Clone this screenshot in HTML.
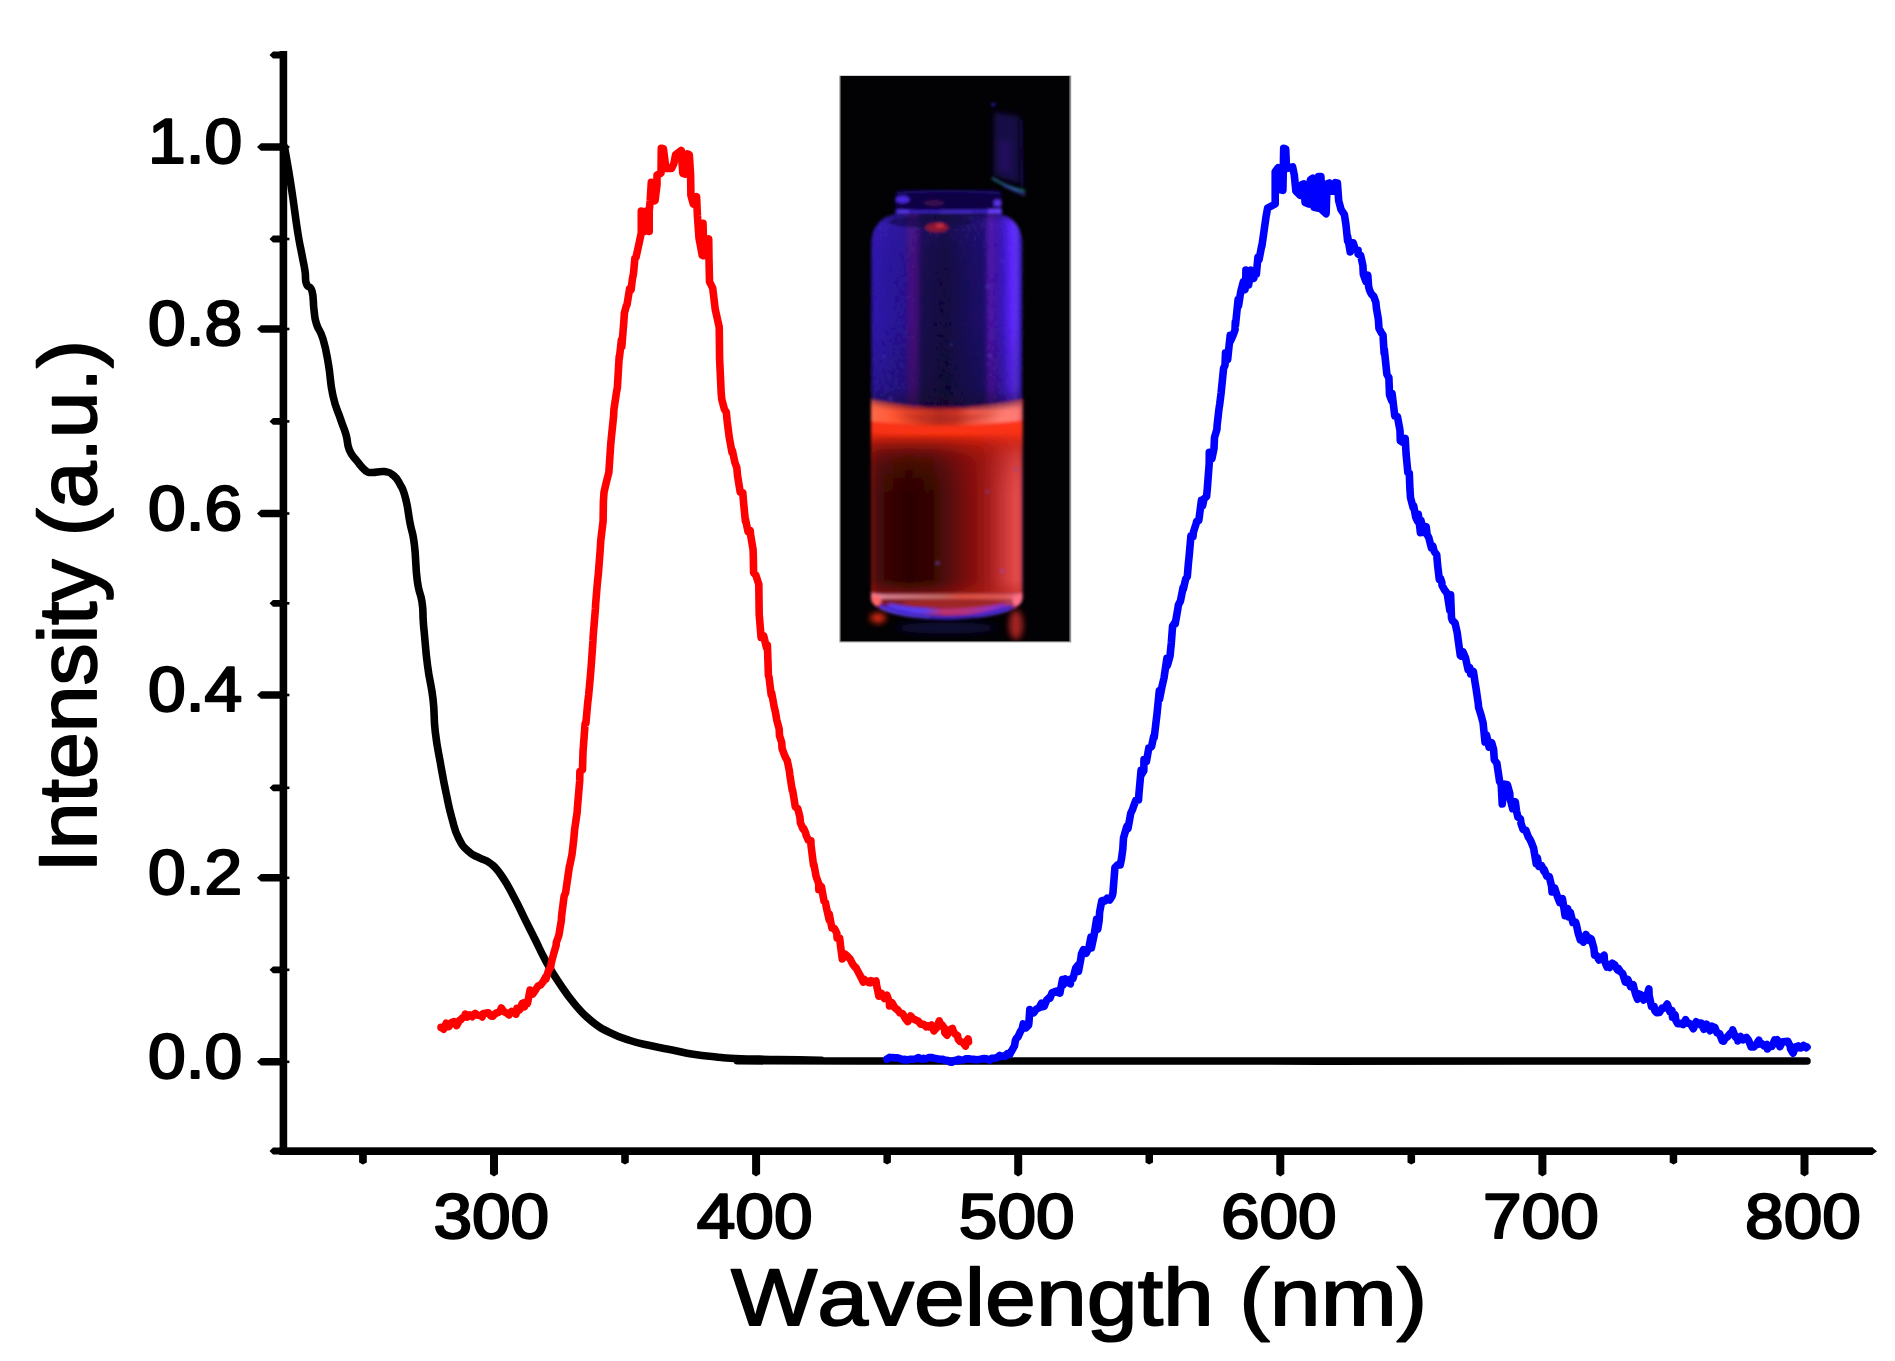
<!DOCTYPE html>
<html lang="en">
<head>
<meta charset="utf-8">
<title>Absorption, excitation and emission spectra</title>
<style>
html,body{margin:0;padding:0;background:#fff;}
body{width:1895px;height:1361px;overflow:hidden;}
svg{display:block;}
</style>
</head>
<body>
<svg width="1895" height="1361" viewBox="0 0 1895 1361">
<rect width="1895" height="1361" fill="#fff"/>
<g fill="#000">
<rect x="279.6" y="51" width="7.6" height="1104"/>
<rect x="279.6" y="1147.3" width="1593" height="7.7"/>
<path d="M1872,1147.3 L1877,1151.2 L1872,1155 Z"/>
<path d="M281,143.2 L261,143.2 L257,147.0 L261,150.8 L281,150.8 Z"/>
<rect x="286" y="145.7" width="3.4" height="2.6"/>
<path d="M281,325.2 L261,325.2 L257,329.0 L261,332.8 L281,332.8 Z"/>
<rect x="286" y="327.7" width="3.4" height="2.6"/>
<path d="M281,509.7 L261,509.7 L257,513.5 L261,517.3 L281,517.3 Z"/>
<rect x="286" y="512.2" width="3.4" height="2.6"/>
<path d="M281,691.2 L261,691.2 L257,695.0 L261,698.8 L281,698.8 Z"/>
<rect x="286" y="693.7" width="3.4" height="2.6"/>
<path d="M281,874.0 L261,874.0 L257,877.8 L261,881.6 L281,881.6 Z"/>
<rect x="286" y="876.5" width="3.4" height="2.6"/>
<path d="M281,1058.0 L261,1058.0 L257,1061.8 L261,1065.6 L281,1065.6 Z"/>
<rect x="286" y="1060.5" width="3.4" height="2.6"/>
<path d="M281,51.6 L273,51.6 L269.5,55.0 L273,58.4 L281,58.4 Z"/>
<path d="M281,235.6 L273,235.6 L269.5,239.0 L273,242.4 L281,242.4 Z"/>
<rect x="286" y="237.7" width="3.4" height="2.6"/>
<path d="M281,418.0 L273,418.0 L269.5,421.4 L273,424.8 L281,424.8 Z"/>
<rect x="286" y="420.1" width="3.4" height="2.6"/>
<path d="M281,599.9 L273,599.9 L269.5,603.3 L273,606.7 L281,606.7 Z"/>
<rect x="286" y="602.0" width="3.4" height="2.6"/>
<path d="M281,784.4 L273,784.4 L269.5,787.8 L273,791.2 L281,791.2 Z"/>
<rect x="286" y="786.5" width="3.4" height="2.6"/>
<path d="M281,966.4 L273,966.4 L269.5,969.8 L273,973.2 L281,973.2 Z"/>
<rect x="286" y="968.5" width="3.4" height="2.6"/>
<path d="M281,1147.6 L273,1147.6 L269.5,1151.0 L273,1154.4 L281,1154.4 Z"/>
<path d="M490.0,1154 L490.0,1174 L494.0,1176.5 L498.0,1174 L498.0,1154 Z"/>
<path d="M752.1,1154 L752.1,1174 L756.1,1176.5 L760.1,1174 L760.1,1154 Z"/>
<path d="M1014.2,1154 L1014.2,1174 L1018.2,1176.5 L1022.2,1174 L1022.2,1154 Z"/>
<path d="M1276.3,1154 L1276.3,1174 L1280.3,1176.5 L1284.3,1174 L1284.3,1154 Z"/>
<path d="M1538.4,1154 L1538.4,1174 L1542.4,1176.5 L1546.4,1174 L1546.4,1154 Z"/>
<path d="M1800.5,1154 L1800.5,1174 L1804.5,1176.5 L1808.5,1174 L1808.5,1154 Z"/>
<path d="M359.1,1154 L359.1,1162.5 L362.9,1164.5 L366.8,1162.5 L366.8,1154 Z"/>
<path d="M621.2,1154 L621.2,1162.5 L625.0,1164.5 L628.8,1162.5 L628.8,1154 Z"/>
<path d="M883.4,1154 L883.4,1162.5 L887.1,1164.5 L890.9,1162.5 L890.9,1154 Z"/>
<path d="M1145.5,1154 L1145.5,1162.5 L1149.2,1164.5 L1153.0,1162.5 L1153.0,1154 Z"/>
<path d="M1407.5,1154 L1407.5,1162.5 L1411.3,1164.5 L1415.1,1162.5 L1415.1,1154 Z"/>
<path d="M1669.7,1154 L1669.7,1162.5 L1673.5,1164.5 L1677.2,1162.5 L1677.2,1154 Z"/>
</g>
<g fill="none" stroke-linejoin="round" stroke-linecap="round" stroke-width="7.6">
<path stroke="#000" d="M284.5,147.0 C285.6,153.1 286.4,157.5 288.5,170.0 C290.6,182.5 289.8,177.5 292.3,194.0 C294.8,210.5 295.1,215.7 297.7,232.0 C300.3,248.3 300.1,244.6 302.0,255.0 C303.9,265.4 303.8,263.3 305.0,271.0 C306.2,278.7 304.6,278.7 306.5,284.0 C308.4,289.3 310.0,284.1 312.0,291.0 C314.0,297.9 312.8,301.2 314.0,310.0 C315.2,318.8 314.1,316.3 316.5,324.0 C318.9,331.7 319.8,328.3 323.0,339.0 C326.2,349.7 325.8,349.1 328.4,364.0 C331.0,378.9 329.6,380.3 332.8,395.0 C336.0,409.7 337.0,408.4 340.5,419.0 C344.0,429.6 343.6,426.3 346.0,434.6 C348.4,442.9 346.5,443.0 349.4,450.0 C352.3,457.0 352.9,455.7 357.0,461.0 C361.1,466.3 361.0,466.9 364.8,470.0 C368.6,473.1 366.1,472.1 371.4,472.5 C376.7,472.9 378.7,470.8 384.6,471.6 C390.5,472.4 389.3,472.0 393.4,475.4 C397.5,478.8 396.7,478.0 400.0,484.2 C403.3,490.4 402.9,488.2 405.6,498.5 C408.3,508.8 407.7,510.5 410.0,522.8 C412.3,535.1 412.5,529.5 414.4,544.8 C416.3,560.1 415.2,564.7 417.2,580.0 C419.2,595.3 420.4,591.3 422.0,602.0 C423.6,612.7 422.6,611.7 423.2,620.0 C423.8,628.3 423.1,620.7 424.3,633.0 C425.5,645.3 425.3,648.4 427.6,666.0 C429.9,683.6 430.9,681.4 433.0,699.0 C435.1,716.6 433.2,714.3 435.3,732.0 C437.4,749.7 437.9,748.8 440.8,765.3 C443.7,781.8 443.3,779.9 446.3,794.0 C449.3,808.1 448.6,806.5 451.9,818.2 C455.2,829.9 454.1,829.2 458.5,838.0 C462.9,846.8 462.8,846.0 468.4,851.3 C474.0,856.6 473.5,854.7 479.4,857.9 C485.3,861.1 484.5,858.7 490.4,863.4 C496.3,868.1 495.1,866.5 501.4,875.5 C507.7,884.5 507.8,885.6 513.9,897.0 C520.0,908.4 518.8,906.8 524.4,918.1 C530.0,929.4 529.4,927.9 535.0,939.2 C540.6,950.5 539.3,949.0 545.5,960.3 C551.7,971.6 550.3,969.6 558.2,981.4 C566.1,993.2 566.1,993.9 575.1,1004.6 C584.1,1015.3 583.0,1014.2 592.0,1021.5 C601.0,1028.8 598.8,1027.0 608.9,1032.1 C619.0,1037.2 618.7,1036.8 630.0,1040.5 C641.3,1044.2 639.8,1043.3 651.1,1045.8 C662.4,1048.3 660.9,1047.8 672.2,1050.0 C683.5,1052.2 682.0,1052.4 693.3,1054.2 C704.6,1056.0 703.1,1055.7 714.4,1056.8 C725.7,1057.9 718.6,1057.8 735.5,1058.5 C752.4,1059.2 755.2,1059.0 777.7,1059.5 C800.2,1060.0 798.1,1059.8 820.0,1060.2 C841.9,1060.6 596.8,1060.8 860.0,1061.0 C1123.2,1061.2 1554.5,1061.0 1807.0,1061.0"/>
<path stroke="#f00" d="M441.0,1027.6 L441.0,1027.4 L443.6,1029.2 L446.2,1023.2 L448.9,1026.6 L450.6,1023.6 L451.5,1022.6 L454.1,1021.6 L456.7,1025.6 L459.3,1020.5 L461.1,1019.4 L462.0,1018.2 L464.6,1016.7 L465.3,1014.1 L467.2,1017.1 L469.8,1014.8 L472.4,1016.7 L475.1,1013.4 L477.7,1015.3 L480.3,1015.6 L482.2,1016.9 L482.9,1013.7 L485.5,1013.2 L488.2,1012.7 L490.8,1015.9 L492.8,1016.3 L493.4,1015.5 L496.0,1013.2 L498.6,1012.3 L500.2,1011.0 L501.3,1008.0 L503.9,1011.6 L506.5,1013.0 L509.1,1014.8 L509.7,1013.1 L511.7,1011.4 L514.4,1012.9 L516.0,1014.1 L517.0,1008.4 L519.6,1009.8 L522.2,1003.4 L524.4,1006.8 L524.8,1002.5 L527.5,1003.4 L530.1,990.0 L530.8,994.1 L532.7,994.2 L535.3,990.4 L537.9,986.1 L539.2,985.6 L540.6,985.0 L543.2,981.7 L545.5,977.2 L545.8,979.3 L548.4,970.8 L550.8,966.6 L551.0,964.1 L553.7,953.6 L556.1,945.5 L556.3,942.5 L558.9,935.2 L561.4,920.2 L561.5,916.7 L564.1,896.2 L565.6,892.8 L566.8,884.4 L569.4,866.4 L569.8,865.3 L572.0,854.4 L573.7,840.0 L574.6,829.8 L577.2,811.9 L577.3,809.3 L579.7,780.7 L579.9,771.3 L582.5,769.8 L583.0,752.0 L585.1,723.5 L585.9,723.3 L587.7,703.0 L588.7,694.7 L590.3,677.0 L591.2,666.0 L593.0,640.2 L593.1,637.3 L595.4,608.7 L595.6,604.6 L597.2,585.0 L598.2,574.9 L598.3,574.6 L600.2,549.8 L600.8,540.2 L603.1,521.1 L603.4,501.4 L604.0,492.4 L606.1,483.1 L608.7,472.9 L608.8,473.3 L610.7,444.7 L611.3,438.1 L613.6,416.0 L613.9,409.6 L616.5,392.2 L617.4,387.3 L619.2,356.5 L619.3,358.7 L621.4,340.0 L621.8,346.8 L623.8,322.0 L624.4,313.0 L626.3,305.9 L627.0,304.8 L629.6,288.9 L631.1,289.7 L632.3,279.6 L633.5,273.5 L634.9,258.1 L636.0,257.4 L639.2,242.8 L641.3,232.7 L641.3,211.0 L644.0,231.5 L646.5,211.0 L649.2,231.5 L649.2,211.0 L650.2,200.8 L651.3,182.2 L655.0,200.8 L657.0,184.7 L657.0,175.0 L661.0,173.3 L661.3,148.3 L663.4,148.8 L665.9,168.5 L671.5,168.5 L673.9,163.6 L675.6,154.8 L681.2,150.4 L682.8,173.3 L685.3,174.1 L687.7,153.9 L689.3,154.8 L690.6,175.0 L690.9,195.2 L693.3,204.0 L696.6,196.8 L697.4,215.4 L699.0,238.0 L702.2,255.0 L703.0,223.4 L703.9,255.8 L708.7,238.8 L709.0,259.0 L709.5,281.6 L712.7,288.1 L715.2,309.1 L719.2,327.1 L719.2,326.9 L719.4,340.0 L719.6,358.7 L721.2,393.1 L721.8,399.6 L724.4,409.2 L726.3,412.2 L727.1,420.4 L729.2,437.0 L729.7,439.9 L732.0,452.3 L732.3,450.3 L734.9,462.5 L736.8,467.6 L737.5,475.3 L738.7,482.9 L740.2,492.2 L742.8,492.7 L743.5,502.0 L745.4,521.1 L745.4,519.0 L748.0,531.6 L750.2,530.7 L750.6,534.8 L753.1,549.8 L753.3,556.0 L753.6,572.7 L755.9,575.3 L758.5,583.3 L758.8,584.2 L759.2,614.4 L761.1,637.4 L761.7,635.4 L763.7,635.8 L766.4,647.3 L767.4,645.0 L768.4,675.5 L769.0,676.9 L771.2,694.7 L771.6,692.6 L774.2,706.9 L775.4,711.9 L776.8,720.0 L779.2,729.1 L779.5,735.8 L781.7,742.4 L782.1,748.6 L784.7,755.6 L785.6,757.7 L787.3,760.7 L789.4,771.1 L789.9,775.3 L792.2,790.2 L792.6,790.2 L795.1,805.5 L795.2,806.8 L797.8,808.6 L799.9,817.0 L800.4,822.8 L803.0,829.0 L803.7,828.4 L805.7,833.2 L806.0,835.0 L808.3,840.1 L810.9,840.7 L811.0,845.3 L813.5,865.1 L813.9,864.4 L816.1,876.4 L818.7,883.5 L818.8,889.6 L821.4,886.6 L824.0,901.0 L825.4,902.6 L826.6,908.4 L829.2,919.8 L829.2,914.0 L831.9,928.1 L834.5,928.6 L836.8,933.2 L837.1,938.0 L839.7,938.3 L840.6,946.6 L842.3,958.9 L845.0,954.0 L847.6,956.3 L849.2,958.0 L850.2,959.1 L852.8,964.4 L855.4,967.5 L855.9,967.6 L858.1,971.7 L860.7,976.6 L863.3,982.0 L863.6,979.0 L865.9,980.8 L868.5,982.5 L870.3,982.9 L871.2,980.7 L873.8,981.9 L876.0,981.0 L876.4,984.4 L878.9,996.3 L879.0,996.3 L881.6,993.6 L884.3,998.4 L886.9,995.2 L889.4,1002.0 L889.5,1006.0 L892.1,1002.9 L894.7,1007.6 L897.0,1009.6 L897.4,1009.4 L900.0,1012.9 L902.6,1013.6 L904.7,1017.3 L905.2,1018.3 L907.8,1021.5 L910.5,1015.9 L913.1,1018.8 L915.7,1020.0 L916.1,1020.1 L918.3,1021.2 L920.9,1024.3 L923.6,1024.3 L926.2,1026.8 L927.6,1025.9 L928.8,1026.8 L931.4,1025.0 L934.0,1030.9 L936.7,1027.6 L939.3,1020.9 L941.0,1025.9 L941.9,1024.7 L944.5,1028.2 L944.8,1032.6 L947.1,1035.1 L949.8,1029.8 L952.4,1028.5 L953.4,1031.6 L955.0,1034.0 L957.6,1035.7 L958.2,1039.2 L960.2,1041.5 L962.9,1042.4 L965.5,1046.1 L965.8,1043.1 L968.1,1038.9 L968.5,1042.0"/>
<path stroke="#00f" d="M887.0,1059.1 L887.0,1059.3 L889.4,1057.4 L889.6,1057.8 L892.2,1057.6 L894.9,1057.9 L897.5,1057.8 L900.1,1058.6 L902.7,1059.8 L904.7,1059.3 L905.3,1059.6 L908.0,1059.9 L910.6,1059.2 L913.2,1059.2 L915.8,1058.9 L918.4,1057.5 L921.1,1059.1 L923.7,1058.8 L923.8,1058.4 L926.3,1058.9 L928.9,1057.5 L931.5,1057.5 L934.2,1058.3 L936.8,1058.7 L939.4,1059.3 L942.0,1059.2 L942.9,1059.3 L944.6,1060.3 L947.3,1060.3 L949.9,1061.9 L951.5,1062.2 L952.5,1062.0 L955.1,1060.2 L957.7,1060.7 L958.2,1059.3 L960.4,1059.7 L963.0,1060.1 L965.6,1058.9 L968.2,1058.8 L970.8,1059.1 L973.5,1059.2 L976.1,1059.7 L978.7,1059.5 L981.1,1059.3 L981.3,1059.0 L983.9,1058.6 L986.6,1058.9 L989.2,1060.2 L990.6,1059.3 L991.8,1058.4 L994.4,1058.3 L997.0,1057.7 L999.7,1055.5 L1000.2,1056.4 L1002.3,1056.0 L1004.9,1056.4 L1007.5,1053.5 L1009.8,1054.5 L1010.1,1053.7 L1012.8,1048.8 L1014.5,1045.9 L1015.4,1040.4 L1016.4,1038.3 L1018.0,1036.9 L1020.6,1031.2 L1022.2,1028.7 L1023.2,1023.9 L1025.9,1027.8 L1028.5,1025.2 L1028.9,1023.0 L1029.8,1009.6 L1031.1,1012.0 L1033.7,1012.8 L1036.3,1009.2 L1039.0,1007.9 L1041.6,1003.2 L1042.2,1006.8 L1044.2,1006.3 L1046.8,999.9 L1049.4,997.4 L1049.9,998.2 L1052.1,992.8 L1054.7,991.7 L1057.3,991.0 L1057.5,992.4 L1059.9,993.1 L1062.5,979.6 L1063.3,984.8 L1065.2,978.9 L1067.8,982.1 L1070.4,983.8 L1070.9,979.0 L1073.0,978.7 L1075.6,968.3 L1078.3,964.7 L1078.5,971.4 L1080.9,958.4 L1081.4,954.2 L1083.5,949.7 L1086.1,953.2 L1088.7,948.0 L1089.1,946.6 L1091.0,937.0 L1091.4,947.9 L1094.0,935.7 L1096.6,919.4 L1097.7,929.4 L1099.2,920.1 L1099.6,912.2 L1101.8,900.7 L1104.5,900.1 L1105.3,900.7 L1107.1,898.3 L1109.7,900.0 L1112.3,895.7 L1112.9,893.1 L1114.9,868.2 L1114.9,867.6 L1117.6,864.8 L1120.2,864.9 L1121.5,858.7 L1122.8,849.2 L1123.5,838.0 L1125.4,831.4 L1126.8,826.5 L1128.0,828.6 L1130.7,813.3 L1132.6,809.3 L1133.3,807.1 L1135.9,800.1 L1138.5,800.0 L1138.9,794.0 L1141.1,770.2 L1141.2,774.9 L1143.8,770.8 L1144.0,759.6 L1146.4,761.6 L1148.8,748.2 L1149.0,748.4 L1151.6,746.6 L1153.6,736.7 L1154.2,737.6 L1156.9,714.7 L1157.0,713.8 L1159.3,690.8 L1159.5,699.2 L1162.1,686.1 L1164.1,677.5 L1164.7,673.2 L1166.9,658.3 L1167.3,665.6 L1170.0,656.2 L1171.3,643.1 L1172.6,626.0 L1175.2,622.0 L1175.2,623.9 L1177.8,609.0 L1178.4,604.8 L1180.4,601.2 L1183.1,587.6 L1183.2,589.6 L1185.7,579.0 L1187.3,576.5 L1188.3,564.4 L1189.2,555.5 L1190.9,536.1 L1193.0,536.4 L1193.5,531.8 L1196.2,523.3 L1196.8,521.1 L1198.8,520.6 L1201.4,500.4 L1202.6,505.8 L1204.0,498.8 L1206.6,496.5 L1207.3,488.6 L1209.2,463.8 L1209.3,452.3 L1211.9,458.8 L1214.0,448.5 L1214.5,437.5 L1216.9,429.4 L1217.1,425.5 L1218.8,410.3 L1219.7,404.3 L1221.1,393.1 L1222.4,380.1 L1223.6,368.2 L1225.0,365.4 L1225.5,352.9 L1227.6,359.9 L1230.2,335.4 L1230.3,341.5 L1232.8,336.0 L1235.0,330.0 L1235.3,322.0 L1235.5,325.1 L1238.1,299.6 L1238.5,305.9 L1240.7,292.0 L1243.3,281.9 L1245.0,289.7 L1245.8,278.4 L1245.9,270.1 L1248.6,285.1 L1251.2,270.2 L1253.8,278.3 L1254.7,273.5 L1256.4,273.8 L1257.9,257.4 L1259.0,259.8 L1261.7,245.8 L1261.9,246.1 L1266.0,217.0 L1267.6,208.1 L1275.2,204.0 L1275.2,171.7 L1278.1,167.7 L1279.2,189.5 L1282.9,190.3 L1283.7,148.3 L1285.7,149.1 L1286.5,168.5 L1292.6,166.9 L1294.3,175.0 L1295.9,191.1 L1299.9,195.2 L1301.5,184.7 L1303.9,183.8 L1305.1,202.4 L1308.8,204.0 L1310.4,179.8 L1312.8,178.2 L1314.1,207.3 L1317.7,208.1 L1318.5,176.6 L1320.9,176.6 L1322.5,210.5 L1326.1,213.7 L1327.1,183.8 L1329.3,183.0 L1330.9,191.1 L1333.9,191.1 L1335.5,182.7 L1337.4,183.0 L1338.7,200.8 L1341.1,209.7 L1344.4,214.6 L1346.0,225.1 L1347.6,240.9 L1347.6,236.4 L1350.2,251.9 L1352.8,246.1 L1353.2,242.8 L1355.5,250.2 L1358.1,250.2 L1358.1,254.2 L1360.7,255.5 L1362.9,265.5 L1363.3,274.2 L1365.9,281.4 L1367.8,275.2 L1368.6,286.5 L1369.4,289.7 L1371.2,293.8 L1373.8,296.5 L1375.9,302.6 L1376.4,308.0 L1378.3,318.8 L1379.0,328.4 L1381.7,333.3 L1383.0,335.0 L1384.1,352.9 L1384.3,349.5 L1386.9,374.4 L1388.9,377.8 L1389.5,394.9 L1391.7,400.7 L1392.1,393.6 L1394.8,416.1 L1397.4,416.5 L1398.4,421.7 L1400.0,430.4 L1400.3,440.8 L1402.6,442.2 L1405.2,438.4 L1406.1,454.2 L1407.9,473.0 L1409.3,473.3 L1409.9,488.6 L1410.5,497.6 L1413.1,507.5 L1413.7,505.8 L1415.7,517.2 L1417.5,521.1 L1418.3,514.2 L1420.4,532.6 L1421.0,520.6 L1423.6,532.4 L1426.2,526.6 L1427.1,534.5 L1428.8,537.6 L1431.4,547.7 L1432.8,545.9 L1434.1,551.2 L1436.7,554.7 L1437.6,565.0 L1439.3,579.2 L1440.5,578.4 L1441.9,582.6 L1442.0,585.3 L1444.5,589.9 L1447.2,593.4 L1449.8,610.2 L1450.6,594.8 L1451.5,617.8 L1452.4,620.6 L1455.0,622.8 L1457.3,633.1 L1457.6,635.7 L1460.3,655.6 L1461.1,656.0 L1462.9,651.7 L1465.5,657.7 L1468.1,669.7 L1469.7,667.5 L1470.7,674.0 L1473.4,671.5 L1475.4,684.7 L1476.0,688.1 L1478.3,703.8 L1478.6,707.4 L1481.2,715.7 L1483.1,722.9 L1483.8,730.2 L1485.0,742.0 L1486.5,735.0 L1489.1,747.1 L1491.7,742.7 L1493.6,749.6 L1494.3,759.8 L1496.9,763.2 L1497.4,766.8 L1499.6,781.4 L1501.2,784.0 L1502.2,804.0 L1504.8,784.2 L1507.4,784.8 L1509.8,793.6 L1510.0,798.1 L1512.7,808.7 L1515.3,801.7 L1516.5,810.8 L1517.9,817.1 L1520.5,819.1 L1521.0,823.4 L1523.1,829.5 L1525.8,830.1 L1528.4,837.1 L1529.6,838.7 L1531.0,841.5 L1533.6,848.1 L1536.2,863.5 L1537.3,857.8 L1538.9,866.4 L1541.5,865.6 L1543.9,871.2 L1544.1,869.2 L1546.7,876.3 L1549.3,876.6 L1551.6,886.4 L1552.0,892.0 L1554.6,888.0 L1557.2,895.9 L1559.8,902.6 L1561.1,901.7 L1562.4,898.6 L1565.1,915.7 L1567.7,908.6 L1568.8,917.0 L1570.3,912.3 L1572.9,922.5 L1575.5,922.0 L1576.4,924.7 L1578.2,933.2 L1580.3,939.9 L1580.8,937.4 L1583.4,942.1 L1586.0,934.5 L1588.6,940.2 L1589.8,938.0 L1591.3,939.1 L1593.9,948.6 L1594.6,955.2 L1596.5,955.5 L1599.1,960.0 L1601.7,957.4 L1604.1,955.2 L1604.4,960.4 L1607.0,967.0 L1608.0,965.7 L1609.6,967.4 L1612.2,963.3 L1614.8,965.0 L1617.5,969.9 L1618.5,968.6 L1620.1,971.3 L1622.7,973.6 L1625.3,982.2 L1626.1,982.0 L1627.9,979.6 L1630.6,986.7 L1633.2,984.7 L1633.8,987.7 L1635.8,994.8 L1637.6,999.2 L1638.4,993.8 L1641.0,994.8 L1643.7,1000.0 L1646.3,998.1 L1648.9,988.9 L1649.1,995.4 L1651.5,1006.4 L1654.1,1006.5 L1654.8,1010.7 L1656.8,1012.7 L1659.4,1012.5 L1662.0,1008.3 L1662.4,1008.7 L1664.6,1008.0 L1667.2,1004.1 L1669.9,1011.6 L1672.0,1010.7 L1672.5,1017.2 L1675.1,1014.9 L1675.8,1020.2 L1677.7,1023.8 L1680.3,1023.4 L1683.0,1024.6 L1685.6,1019.7 L1687.3,1023.1 L1688.2,1022.9 L1690.8,1024.3 L1693.4,1028.7 L1696.1,1021.8 L1698.7,1023.2 L1700.7,1025.0 L1701.3,1023.2 L1703.9,1029.3 L1706.5,1024.2 L1709.2,1029.5 L1710.2,1030.7 L1711.8,1026.2 L1714.4,1027.2 L1715.0,1027.8 L1717.0,1032.9 L1719.6,1033.6 L1722.3,1040.9 L1723.6,1041.2 L1724.9,1038.6 L1727.5,1036.7 L1730.1,1033.6 L1732.2,1031.7 L1732.7,1030.0 L1735.4,1037.0 L1737.9,1039.3 L1738.0,1040.9 L1740.6,1036.6 L1743.2,1039.8 L1745.8,1037.8 L1746.5,1037.4 L1748.5,1040.2 L1751.1,1046.9 L1751.3,1047.0 L1753.7,1046.9 L1756.3,1044.4 L1758.9,1040.3 L1758.9,1044.1 L1761.6,1043.6 L1764.2,1046.1 L1766.8,1044.6 L1767.5,1048.9 L1769.4,1045.9 L1772.0,1046.4 L1774.7,1039.9 L1775.2,1042.2 L1777.3,1039.8 L1779.9,1046.7 L1782.5,1042.0 L1782.8,1042.2 L1785.1,1041.5 L1787.8,1041.3 L1790.4,1046.7 L1790.5,1048.9 L1793.0,1053.2 L1795.6,1046.9 L1798.1,1046.0 L1798.2,1047.5 L1800.9,1047.9 L1803.5,1045.4 L1806.1,1047.7 L1807.0,1047.0"/>
</g>
<defs>
<clipPath id="pc"><rect x="840.5" y="76" width="229" height="565"/></clipPath>
<clipPath id="bodyc"><path d="M871,598 L871,246 Q871,217 900,213 L995,213 Q1022.5,217 1022.5,246 L1022.5,598 Q1022.5,616 946,620 Q871,616 871,598 Z"/></clipPath>
<clipPath id="liqc"><path d="M869,399 Q946,416 1024,399 L1024,600 L869,600 Z"/></clipPath>
<filter id="b1" x="-10%" y="-10%" width="120%" height="120%"><feGaussianBlur stdDeviation="1.5"/></filter>
<filter id="b2" x="-30%" y="-30%" width="160%" height="160%"><feGaussianBlur stdDeviation="3"/></filter>
<filter id="grain" x="0" y="0" width="100%" height="100%">
<feTurbulence type="fractalNoise" baseFrequency="0.55" numOctaves="2" seed="4" result="n"/>
<feColorMatrix in="n" type="matrix" values="0 0 0 0 0.45  0 0 0 0 0.35  0 0 0 0 1  1.6 0 0 0 -0.62"/>
</filter>
<filter id="b4" x="-40%" y="-40%" width="180%" height="180%"><feGaussianBlur stdDeviation="6"/></filter>
<linearGradient id="gBlue" x1="871" x2="1022.5" y1="0" y2="0" gradientUnits="userSpaceOnUse">
<stop offset="0" stop-color="#1c0a78"/>
<stop offset="0.02" stop-color="#2a10a8"/>
<stop offset="0.125" stop-color="#240e98"/>
<stop offset="0.22" stop-color="#220c8c"/>
<stop offset="0.26" stop-color="#40097a"/>
<stop offset="0.30" stop-color="#3a0870"/>
<stop offset="0.335" stop-color="#120548"/>
<stop offset="0.49" stop-color="#0b0336"/>
<stop offset="0.59" stop-color="#10054c"/>
<stop offset="0.745" stop-color="#150664"/>
<stop offset="0.785" stop-color="#4c0ea4"/>
<stop offset="0.825" stop-color="#3a0ca0"/>
<stop offset="0.865" stop-color="#3210b8"/>
<stop offset="0.925" stop-color="#5a1cfc"/>
<stop offset="0.957" stop-color="#5630ee"/>
<stop offset="0.985" stop-color="#3a14c0"/>
<stop offset="1" stop-color="#1c0a70"/>
</linearGradient>
<linearGradient id="gBlueV" x1="0" x2="0" y1="213" y2="402" gradientUnits="userSpaceOnUse">
<stop offset="0" stop-color="#000" stop-opacity="0.3"/>
<stop offset="0.06" stop-color="#5a3cf0" stop-opacity="0.12"/>
<stop offset="0.2" stop-color="#5a3cf0" stop-opacity="0.03"/>
<stop offset="0.55" stop-color="#000" stop-opacity="0"/>
<stop offset="0.93" stop-color="#000" stop-opacity="0.18"/>
<stop offset="1" stop-color="#10001a" stop-opacity="0.5"/>
</linearGradient>
<linearGradient id="gRed" x1="871" x2="1022.5" y1="0" y2="0" gradientUnits="userSpaceOnUse">
<stop offset="0" stop-color="#7a1010"/>
<stop offset="0.035" stop-color="#4a0808"/>
<stop offset="0.1" stop-color="#3a0606"/>
<stop offset="0.25" stop-color="#2a0404"/>
<stop offset="0.4" stop-color="#340605"/>
<stop offset="0.52" stop-color="#560908"/>
<stop offset="0.63" stop-color="#7a0d0a"/>
<stop offset="0.69" stop-color="#8a100c"/>
<stop offset="0.79" stop-color="#a82020"/>
<stop offset="0.9" stop-color="#d23c3c"/>
<stop offset="0.96" stop-color="#e64a4a"/>
<stop offset="1" stop-color="#c03c50"/>
</linearGradient>
<linearGradient id="gRedV" x1="0" x2="0" y1="400" y2="600" gradientUnits="userSpaceOnUse">
<stop offset="0" stop-color="#ff3a1c" stop-opacity="0.95"/>
<stop offset="0.11" stop-color="#ff3014" stop-opacity="0.95"/>
<stop offset="0.175" stop-color="#f42c10" stop-opacity="0.92"/>
<stop offset="0.2" stop-color="#d82410" stop-opacity="0.8"/>
<stop offset="0.235" stop-color="#c01c0c" stop-opacity="0.6"/>
<stop offset="0.275" stop-color="#b0180a" stop-opacity="0.36"/>
<stop offset="0.325" stop-color="#a01408" stop-opacity="0.19"/>
<stop offset="0.39" stop-color="#a01408" stop-opacity="0.08"/>
<stop offset="0.48" stop-color="#a01408" stop-opacity="0"/>
<stop offset="0.9" stop-color="#b01c0c" stop-opacity="0"/>
<stop offset="0.96" stop-color="#b01c0c" stop-opacity="0.4"/>
<stop offset="1" stop-color="#c8281a" stop-opacity="0.55"/>
</linearGradient>
<linearGradient id="gTopBand" x1="871" x2="1022.5" y1="0" y2="0" gradientUnits="userSpaceOnUse">
<stop offset="0" stop-color="#ff6a48"/>
<stop offset="0.16" stop-color="#ff5634"/>
<stop offset="0.3" stop-color="#e03e26"/>
<stop offset="0.45" stop-color="#bc2e20"/>
<stop offset="0.56" stop-color="#cc3424"/>
<stop offset="0.66" stop-color="#f45a48"/>
<stop offset="0.85" stop-color="#ff7c70"/>
<stop offset="0.96" stop-color="#ff7a74"/>
<stop offset="1" stop-color="#e05a60"/>
</linearGradient>
<linearGradient id="gBot" x1="871" x2="1022.5" y1="0" y2="0" gradientUnits="userSpaceOnUse">
<stop offset="0" stop-color="#ff6060"/>
<stop offset="0.07" stop-color="#7a1830"/>
<stop offset="0.4" stop-color="#8a2028"/>
<stop offset="0.7" stop-color="#a83038"/>
<stop offset="0.93" stop-color="#b03c58"/>
<stop offset="1" stop-color="#ff6a80"/>
</linearGradient>
<linearGradient id="gLine" x1="871" x2="1022.5" y1="0" y2="0" gradientUnits="userSpaceOnUse">
<stop offset="0" stop-color="#ffa0c0"/>
<stop offset="0.1" stop-color="#d88090"/>
<stop offset="0.45" stop-color="#c06a68"/>
<stop offset="0.6" stop-color="#e05040"/>
<stop offset="0.88" stop-color="#e25a50"/>
<stop offset="1" stop-color="#ff7494"/>
</linearGradient>
<linearGradient id="gArc" x1="871" x2="1022.5" y1="0" y2="0" gradientUnits="userSpaceOnUse">
<stop offset="0.1" stop-color="#5a3af0"/>
<stop offset="0.35" stop-color="#5c3cf2"/>
<stop offset="0.48" stop-color="#c03070"/>
<stop offset="0.62" stop-color="#b43080"/>
<stop offset="0.8" stop-color="#9030c0"/>
<stop offset="1" stop-color="#7034d8"/>
</linearGradient>
</defs>
<g id="photo">
<rect x="839.4" y="75.6" width="231.8" height="566.8" fill="#8e8e8e"/>
<rect x="840.6" y="76" width="228.8" height="565.2" fill="#020103"/>
<g clip-path="url(#pc)">
<!-- leaning cap at top right (barely visible) -->
<g filter="url(#b2)">
<path d="M994,112 L1019,116 L1020,184 L994,176 Z" fill="#140846"/>
<path d="M999,140 L1011,142 L1011,174 L999,170 Z" fill="#2a0f66" opacity="0.7"/>
</g>
<g filter="url(#b1)">
<path d="M992,178 Q1008,188 1025,191" stroke="#2a7f96" stroke-width="2" fill="none"/>
<path d="M1003,185 Q1015,191 1025,195" stroke="#3434a8" stroke-width="2" fill="none"/>
<path d="M1021,120 L1022,186" stroke="#1c0c58" stroke-width="2" fill="none"/>
<circle cx="993.3" cy="104.5" r="1.8" fill="#2a22d8"/>
<!-- neck / rim -->
<path d="M895,196 Q895,190 902,190 L996,190 Q1002,190 1002,196 L1002,214 L895,214 Z" fill="#0e0444"/>
<path d="M897,193 Q948,189 1000,193" stroke="#1c0c70" stroke-width="2" fill="none"/>
<ellipse cx="902.5" cy="199.5" rx="7" ry="3.6" fill="#4a28e0"/>
<ellipse cx="997.5" cy="203" rx="4" ry="3.6" fill="#5a30e0"/>
<ellipse cx="934" cy="203" rx="10" ry="3" fill="#3a0a50"/>
<path d="M896,212 Q948,213.5 1002,211.5" stroke="#3a20c0" stroke-width="4.6" fill="none"/>
<path d="M898,211.8 L909,212.2" stroke="#5a38f0" stroke-width="4" fill="none"/>
<path d="M940,212.5 L972,212.3" stroke="#4a2ad0" stroke-width="3.4" fill="none"/>
<path d="M988,211.6 L1001,211" stroke="#6a40ff" stroke-width="4" fill="none"/>
<!-- body -->
<g clip-path="url(#bodyc)">
<rect x="865" y="205" width="165" height="420" fill="url(#gBlue)"/>
<rect x="865" y="205" width="165" height="200" fill="url(#gBlueV)"/>
<ellipse cx="930" cy="222" rx="42" ry="6" fill="#0a0338" opacity="0.6"/>
<ellipse cx="937" cy="227.5" rx="11.5" ry="4.6" fill="#9a1428" opacity="0.9"/>
<ellipse cx="940" cy="225.5" rx="4" ry="2.2" fill="#c8283a"/>
<!-- liquid -->
<g clip-path="url(#liqc)">
<rect x="865" y="395" width="165" height="210" fill="url(#gRed)"/>
<rect x="865" y="395" width="165" height="210" fill="url(#gRedV)"/>
<path d="M869,399 Q946,415 1024,400 L1024,420 Q946,431 869,421 Z" fill="url(#gTopBand)"/>
<path d="M892,412 Q946,421 1004,411 Q946,432 892,412 Z" fill="#a4261c" opacity="0.8" filter="url(#b2)"/>
<path d="M872,427 Q946,438 1020,425" stroke="#ff3616" stroke-width="8" fill="none" filter="url(#b2)"/>
<path d="M869,398 Q946,415 1024,399" stroke="#30083c" stroke-width="6" fill="none" opacity="0.8" filter="url(#b2)"/>
</g>
<rect x="869" y="212" width="156" height="192" filter="url(#grain)" opacity="0.2"/>
<!-- bottom of vial -->
<path d="M871,593 L1022.5,593 L1022.5,600 Q1020,616 946,621 Q873,616 871,600 Z" fill="url(#gBot)"/>
<ellipse cx="955" cy="603" rx="52" ry="4" fill="#a02828"/>
<path d="M872,596.6 L1022,596.6" stroke="url(#gLine)" stroke-width="4.4" fill="none"/>
<ellipse cx="876" cy="600.5" rx="5.5" ry="5" fill="#ff6868"/>
<ellipse cx="1017.5" cy="600.5" rx="5" ry="5.5" fill="#ff7088"/>
<path d="M888,606.5 Q946,617 1006,606.5" stroke="url(#gArc)" stroke-width="6" fill="none"/>
<path d="M879,607 Q946,631 1013,607.5" stroke="#3a20c4" stroke-width="6" fill="none"/>
<path d="M880,608.5 Q900,617.5 930,619.5" stroke="#6848f4" stroke-width="3.4" fill="none"/>
<path d="M975,618.5 Q1000,615 1011,609" stroke="#5a3ae6" stroke-width="2.6" fill="none"/>
</g>
</g>
<!-- reflections under the vial -->
<g filter="url(#b2)">
<ellipse cx="878" cy="618" rx="8" ry="5" fill="#e02c10"/>
<ellipse cx="1016" cy="625" rx="7" ry="15" fill="#a42024"/>
<ellipse cx="946" cy="628" rx="50" ry="6" fill="#0e0734"/>
</g>
<!-- dust specks -->
<g fill="#6a4ce0" opacity="0.55" filter="url(#b1)">
<rect x="935.5" y="561" width="4" height="4"/><rect x="1000" y="569" width="4" height="4" fill="#a03cc0"/>
<rect x="986" y="490" width="3" height="3"/><rect x="1014" y="468" width="3" height="3"/>
<rect x="988" y="354" width="3" height="3"/><rect x="889" y="397" width="3" height="3"/>
<rect x="986" y="285" width="3" height="3"/><rect x="883" y="355" width="2.5" height="2.5"/>
<rect x="1001" y="260" width="2.5" height="2.5"/><rect x="950" y="343" width="2.5" height="2.5"/>
</g>
</g>
</g>

<g font-family="'Liberation Sans', Arial, sans-serif" fill="#000" stroke="#000" stroke-width="1.8" stroke-linejoin="round" style="font-kerning:none" text-rendering="geometricPrecision">
<text class="yl" stroke-width="2.2" transform="translate(148,163.4) scale(1.068,1)" font-size="63.4">1.0</text>
<text class="yl" stroke-width="2.2" transform="translate(148,345.4) scale(1.068,1)" font-size="63.4">0.8</text>
<text class="yl" stroke-width="2.2" transform="translate(148,529.9) scale(1.068,1)" font-size="63.4">0.6</text>
<text class="yl" stroke-width="2.2" transform="translate(148,711.4) scale(1.068,1)" font-size="63.4">0.4</text>
<text class="yl" stroke-width="2.2" transform="translate(148,894.2) scale(1.068,1)" font-size="63.4">0.2</text>
<text class="yl" stroke-width="2.2" transform="translate(148,1078.2) scale(1.068,1)" font-size="63.4">0.0</text>
<text class="xl" stroke-width="2.2" text-anchor="middle" transform="translate(491.3,1238.2) scale(1.095,1)" font-size="63.4">300</text>
<text class="xl" stroke-width="2.2" text-anchor="middle" transform="translate(754.6,1238.2) scale(1.095,1)" font-size="63.4">400</text>
<text class="xl" stroke-width="2.2" text-anchor="middle" transform="translate(1016.7,1238.2) scale(1.095,1)" font-size="63.4">500</text>
<text class="xl" stroke-width="2.2" text-anchor="middle" transform="translate(1278.8,1238.2) scale(1.095,1)" font-size="63.4">600</text>
<text class="xl" stroke-width="2.2" text-anchor="middle" transform="translate(1540.9,1238.2) scale(1.095,1)" font-size="63.4">700</text>
<text class="xl" stroke-width="2.2" text-anchor="middle" transform="translate(1803.0,1238.2) scale(1.095,1)" font-size="63.4">800</text>
<text id="xt" transform="translate(731,1325) scale(1.136,1)" font-size="80.5">Wavelength (nm)</text>
<text id="yt" transform="translate(95.5,872.5) rotate(-90) scale(1.057,1.03)" font-size="79.5">Intensity (a.u.)</text>
</g>
</svg>
</body>
</html>
